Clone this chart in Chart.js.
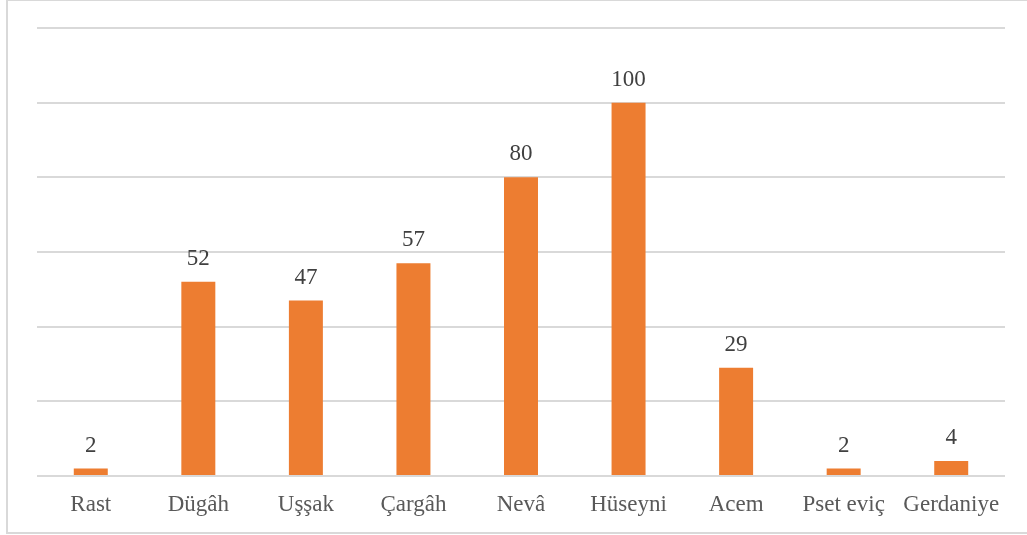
<!DOCTYPE html>
<html>
<head>
<meta charset="utf-8">
<script src="https://cdn.jsdelivr.net/npm/chart.js@4"></script>
<style>
  html, body { margin: 0; padding: 0; background: #fff; }
  #box {
    position: absolute; left: 6px; top: -1px; width: 1030px; height: 535px;
    border: 2px solid #d9d9d9; box-sizing: border-box;
  }
  #wrap { position: absolute; left: 0; top: 0; width: 1027px; height: 535px; }
</style>
</head>
<body>
<div id="box"></div>
<div id="wrap"><canvas id="makamChart"></canvas></div>
<script>
var kategoriler = ["Rast", "Dügâh", "Uşşak", "Çargâh", "Nevâ", "Hüseyni", "Acem", "Pset eviç", "Gerdaniye"];
var degerler = [2, 52, 47, 57, 80, 100, 29, 2, 4];
var yMin = 0, yMax = 120, yAdim = 20;

const ctx = document.getElementById("makamChart").getContext("2d");

// bar tepesine deger yaz
const etiketler = {
  id: "etiketler",
  afterDatasetsDraw(chart) {
    const c = chart.ctx;
    const meta = chart.getDatasetMeta(0);
    c.save();
    c.font = "23px 'Liberation Serif'";
    c.fillStyle = "#404040";
    c.textAlign = "center";
    c.textBaseline = "middle";
    meta.data.forEach(function (bar, i) {
      c.fillText(String(degerler[i]), bar.x, bar.y - 23);
    });
    c.restore();
  },
};

var grafik = new Chart(ctx, {
  type: "bar",
  data: {
    labels: kategoriler,
    datasets: [
      {
        data: degerler,
        backgroundColor: "#ED7D31",
        borderWidth: 0,
        barPercentage: 0.316,
        categoryPercentage: 1,
      },
    ],
  },
  options: {
    responsive: true,
    maintainAspectRatio: false,
    animation: false,
    layout: {
      padding: { left: 37, right: 22, top: 28, bottom: 2 },
    },
    plugins: {
      legend: { display: false },
      tooltip: { enabled: false },
    },
    scales: {
      x: {
        grid: { display: false, drawTicks: false },
        border: { display: false },
        ticks: {
          padding: 17,
          color: "#595959",
          font: { family: "'Liberation Serif'", size: 23, lineHeight: 1 },
          maxRotation: 0,
          autoSkip: false,
        },
      },
      y: {
        min: yMin,
        max: yMax,
        ticks: { stepSize: yAdim, display: false },
        grid: { color: "#d9d9d9", lineWidth: 2, drawTicks: false },
        border: { display: false },
      },
    },
  },
  plugins: [etiketler],
});
</script>
</body>
</html>
